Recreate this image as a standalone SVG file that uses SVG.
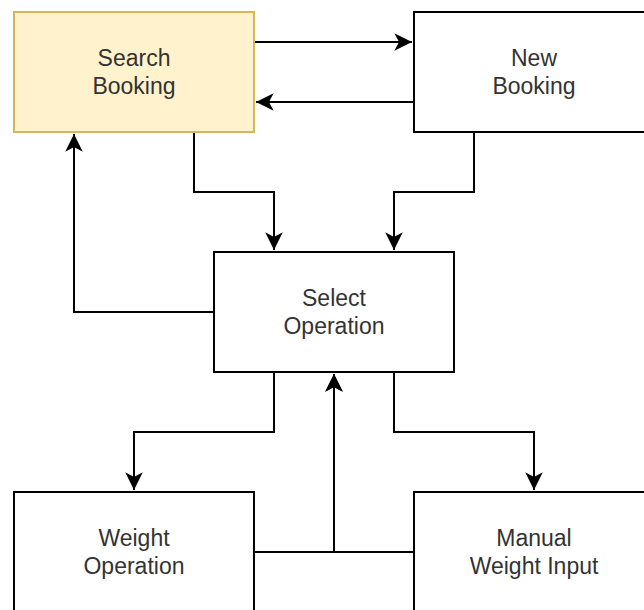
<svg xmlns="http://www.w3.org/2000/svg" width="644" height="610" viewBox="0 0 644 610">
<style>
.box{fill:#ffffff;stroke:#000000;stroke-width:2}
.hl{fill:#fff2cc;stroke:#d6b656;stroke-width:2}
.lbl{font-family:"Liberation Sans",Arial,sans-serif;font-size:23px;fill:#333333;text-anchor:middle}
.edge{fill:none;stroke:#000000;stroke-width:2}
</style>
<defs>
<marker id="arr" markerUnits="userSpaceOnUse" markerWidth="20" markerHeight="20" viewBox="-16 -8 17 16" refX="0" refY="0" orient="auto">
<path d="M0,0 L-15,-7.5 L-11,0 L-15,7.5 Z" fill="#000000"/>
</marker>
</defs>
<rect width="644" height="610" fill="#ffffff"/>
<g id="connectors">
<path class="edge" d="M254,42 L412,42" marker-end="url(#arr)"/>
<path class="edge" d="M414,102 L256,102" marker-end="url(#arr)"/>
<path class="edge" d="M194,132 L194,192 L274,192 L274,250" marker-end="url(#arr)"/>
<path class="edge" d="M474,132 L474,192 L394,192 L394,250" marker-end="url(#arr)"/>
<path class="edge" d="M214,312 L74,312 L74,134" marker-end="url(#arr)"/>
<path class="edge" d="M274,372 L274,432 L134,432 L134,490" marker-end="url(#arr)"/>
<path class="edge" d="M394,372 L394,432 L534,432 L534,490" marker-end="url(#arr)"/>
<path class="edge" d="M254,552 L334,552 L334,374" marker-end="url(#arr)"/>
<path class="edge" d="M414,552 L334,552 L334,374" marker-end="url(#arr)"/>
</g>
<g id="search-booking">
<rect class="hl" x="14" y="12" width="240" height="120"/>
<text class="lbl" x="134" y="66">Search</text>
<text class="lbl" x="134" y="94">Booking</text>
</g>
<g id="new-booking">
<rect class="box" x="414" y="12" width="240" height="120"/>
<text class="lbl" x="534" y="66">New</text>
<text class="lbl" x="534" y="94">Booking</text>
</g>
<g id="select-operation">
<rect class="box" x="214" y="252" width="240" height="120"/>
<text class="lbl" x="334" y="306">Select</text>
<text class="lbl" x="334" y="334">Operation</text>
</g>
<g id="weight-operation">
<rect class="box" x="14" y="492" width="240" height="120"/>
<text class="lbl" x="134" y="546">Weight</text>
<text class="lbl" x="134" y="574">Operation</text>
</g>
<g id="manual-weight-input">
<rect class="box" x="414" y="492" width="240" height="120"/>
<text class="lbl" x="534" y="546">Manual</text>
<text class="lbl" x="534" y="574">Weight Input</text>
</g>
</svg>
